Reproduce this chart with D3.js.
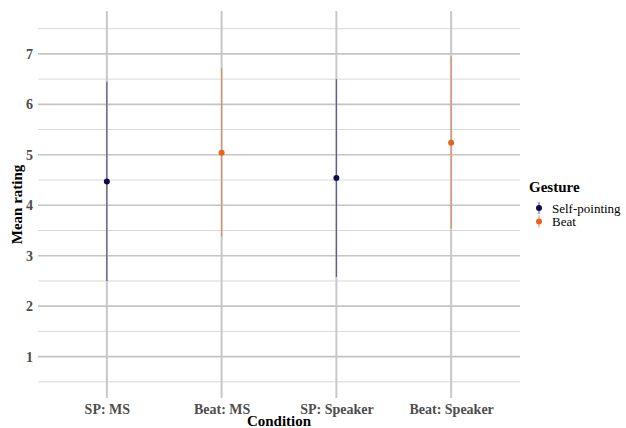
<!DOCTYPE html>
<html>
<head>
<meta charset="utf-8">
<script src="https://cdn.jsdelivr.net/npm/d3@7"></script>
<style>
  body { margin: 0; background: #fff; }
  svg text { font-family: "Liberation Serif", "Times New Roman", serif !important; }
</style>
</head>
<body>
<div class="render"></div>
<script>
// values
var conditions = ['SP: MS', 'Beat: MS', 'SP: Speaker', 'Beat: Speaker'];
var gestures = ['Self-pointing', 'Beat', 'Self-pointing', 'Beat'];
var means = [4.47, 5.04, 4.54, 5.24];
var lows = [2.50, 3.38, 2.58, 3.55];
var highs = [6.45, 6.72, 6.50, 6.95];
var gestureLevels = ['Self-pointing', 'Beat'];
var gestureColors = ['#0b0b52', '#e8631a'];
var yTicks = [1, 2, 3, 4, 5, 6, 7];
var yMinor = [0.5, 1.5, 2.5, 3.5, 4.5, 5.5, 6.5, 7.5];

function draw() {
   var w = 626, h = 428;
   var pLeft = 38, pRight = 520, pTop = 11, pBottom = 398;

   var svg = d3.select('.render').append('svg').attr('width', w).attr('height', h);

   var x = d3.scalePoint().domain(conditions).range([pLeft, pRight]).padding(0.6);
   var y = d3.scaleLinear().domain([0.18, 7.85]).range([pBottom, pTop]);
   var color = d3.scaleOrdinal().domain(gestureLevels).range(gestureColors);

   // grid
   svg.append('g').selectAll('line').data(yMinor).enter().append('line')
      .attr('x1', pLeft).attr('x2', pRight)
      .attr('y1', function (d) { return y(d); }).attr('y2', function (d) { return y(d); })
      .attr('stroke', '#d9d9d9').attr('stroke-width', 1);
   svg.append('g').selectAll('line').data(yTicks).enter().append('line')
      .attr('x1', pLeft).attr('x2', pRight)
      .attr('y1', function (d) { return y(d); }).attr('y2', function (d) { return y(d); })
      .attr('stroke', '#c4c4c4').attr('stroke-width', 1.6);
   svg.append('g').selectAll('line').data(conditions).enter().append('line')
      .attr('x1', function (d) { return x(d); }).attr('x2', function (d) { return x(d); })
      .attr('y1', pTop).attr('y2', pBottom)
      .attr('stroke', '#c8c8c8').attr('stroke-width', 2);

   // error bars + points
   var rows = conditions.map(function (c, i) {
      return { c: c, g: gestures[i], m: means[i], lo: lows[i], hi: highs[i] };
   });
   svg.append('g').selectAll('line').data(rows).enter().append('line')
      .attr('x1', function (d) { return x(d.c); }).attr('x2', function (d) { return x(d.c); })
      .attr('y1', function (d) { return y(d.lo); }).attr('y2', function (d) { return y(d.hi); })
      .attr('stroke', function (d) { return color(d.g); })
      .attr('stroke-width', 1.3).attr('stroke-opacity', 0.55);
   svg.append('g').selectAll('circle').data(rows).enter().append('circle')
      .attr('cx', function (d) { return x(d.c); }).attr('cy', function (d) { return y(d.m); })
      .attr('r', 3).attr('fill', function (d) { return color(d.g); });

   // axes
   var yAxis = d3.axisLeft(y).tickValues(yTicks).tickSize(0).tickPadding(5);
   var gy = svg.append('g').attr('transform', 'translate(' + pLeft + ',0)').call(yAxis);
   gy.select('.domain').remove();
   gy.attr('font-family', null);
   gy.selectAll('text').style('font-size', '14px').style('font-weight', 'bold')
      .style('fill', '#4d4d4d');

   var xAxis = d3.axisBottom(x).tickSize(0).tickPadding(6);
   var gx = svg.append('g').attr('transform', 'translate(0,' + pBottom + ')').call(xAxis);
   gx.select('.domain').remove();
   gx.attr('font-family', null);
   gx.selectAll('text').style('font-size', '14px').style('font-weight', 'bold')
      .style('fill', '#4d4d4d');

   svg.append('text').text('Condition').attr('x', (pLeft + pRight) / 2).attr('y', 426)
      .attr('text-anchor', 'middle').style('font-size', '15px').style('font-weight', 'bold');
   svg.append('text').text('Mean rating')
      .attr('transform', 'translate(22,' + ((pTop + pBottom) / 2) + ')rotate(-90)')
      .attr('text-anchor', 'middle').style('font-size', '15px').style('font-weight', 'bold');

   // legend
   var lg = svg.append('g').attr('transform', 'translate(529,0)');
   lg.append('text').text('Gesture').attr('x', 0).attr('y', 192)
      .style('font-size', '15px').style('font-weight', 'bold');
   var items = lg.selectAll('g.item').data(gestureLevels).enter().append('g')
      .attr('transform', function (d, i) { return 'translate(0,' + (208 + i * 13.5) + ')'; });
   items.append('line').attr('x1', 10).attr('x2', 10).attr('y1', -6).attr('y2', 6)
      .attr('stroke', function (d) { return color(d); }).attr('stroke-opacity', 0.55).attr('stroke-width', 1.3);
   items.append('circle').attr('cx', 10).attr('cy', 0).attr('r', 3)
      .attr('fill', function (d) { return color(d); });
   items.append('text').text(function (d) { return d; }).attr('x', 23).attr('y', 4.5)
      .style('font-size', '13px');
}
draw();
</script>
</body>
</html>
